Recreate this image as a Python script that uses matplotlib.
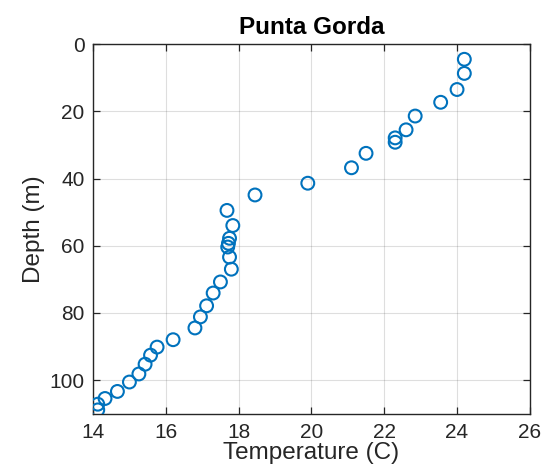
import matplotlib
matplotlib.use("Agg")
import matplotlib.pyplot as plt

# Temperature profile at Punta Gorda: temperature (C) vs depth (m)
temperature = [24.2, 24.2, 24.0, 23.55, 22.85, 22.6, 22.3, 22.3, 21.5, 21.1,
               19.9, 18.45, 17.68, 17.84, 17.75, 17.72, 17.7, 17.75, 17.8, 17.5,
               17.3, 17.12, 16.95, 16.8, 16.2, 15.76, 15.58, 15.43, 15.26, 15.0,
               14.67, 14.33, 14.13, 14.13]
depth = [4.5, 8.7, 13.5, 17.3, 21.4, 25.5, 27.9, 29.2, 32.5, 36.8,
         41.4, 44.9, 49.5, 54.0, 57.8, 59.3, 60.4, 63.4, 67.0, 70.8,
         74.1, 77.9, 81.2, 84.5, 88.0, 90.2, 92.6, 95.3, 98.2, 100.6,
         103.4, 105.5, 107.2, 108.9]

x_ticks = [14, 16, 18, 20, 22, 24, 26]
y_ticks = [0, 20, 40, 60, 80, 100]

plt.rcParams['font.family'] = ['Liberation Sans', 'DejaVu Sans']

fig = plt.figure(figsize=(5.44, 4.70), dpi=100)
ax = fig.add_axes([0.171, 0.120, 0.803, 0.786])

axis_color = '#262626'
ax.scatter(temperature, depth, s=85, facecolors='none',
           edgecolors='#0072BD', linewidths=1.5, zorder=3)

ax.set_xlim(14, 26)
ax.set_ylim(110, 0)
ax.set_xticks(x_ticks)
ax.set_yticks(y_ticks)

ax.grid(True, color='#262626', alpha=0.15, linewidth=0.8)
ax.set_axisbelow(True)

ax.tick_params(direction='in', length=5, width=0.9, colors=axis_color,
               labelsize=15, top=True, right=True, pad=6)
ax.tick_params(axis='x', pad=7)
for sp in ax.spines.values():
    sp.set_color(axis_color)
    sp.set_linewidth(1.0)

ax.set_title('Punta Gorda', fontsize=17.5, fontweight='bold', color='black', pad=7)
ax.set_xlabel('Temperature (C)', fontsize=17.5, color=axis_color, labelpad=0)
ax.set_ylabel('Depth (m)', fontsize=17.5, color=axis_color, labelpad=3)

fig.savefig('out.png', dpi=100, facecolor='white')
